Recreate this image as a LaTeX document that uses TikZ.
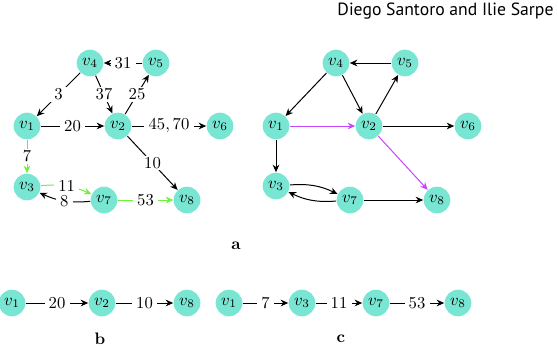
\documentclass[tikz,border=0pt]{standalone}
\usepackage{amsmath}
\usepackage{fontspec}
\usepackage{tikz}
\usetikzlibrary{arrows.meta}
\newfontfamily\hdrfont{PT Sans}
\definecolor{nodeteal}{RGB}{120,230,210}
\definecolor{pathgreen}{RGB}{110,240,60}
\definecolor{pathpink}{RGB}{200,70,250}

\begin{document}
\begin{tikzpicture}[>={Stealth[length=4.5pt, width=4pt]}, x=0.6pt, y=-0.6pt,
    vtx/.style={circle, fill=nodeteal, inner sep=0pt, minimum size=16pt},
    wlbl/.style={fill=white, inner xsep=2.5pt, inner ysep=1pt},
    grn/.style={draw=pathgreen, semithick},
    pnk/.style={draw=pathpink, semithick},
    every path/.append style={semithick}]
    \useasboundingbox (0,0) rectangle (558,346);

    % Tiêu đề chạy
    \node[anchor=base east, inner sep=0pt] (hdr) at (554,15) {\hdrfont\fontsize{10.6}{12}\selectfont Diego Santoro and Ilie Sarpe};

    % Đồ thị trái (có trọng số)
    \node[vtx] (L1) at (27,126) {$v_1$};
    \node[vtx] (L2) at (118,126) {$v_2$};
    \node[vtx] (L3) at (27,187) {$v_3$};
    \node[vtx] (L4) at (90,63) {$v_4$};
    \node[vtx] (L5) at (156,63) {$v_5$};
    \node[vtx] (L6) at (220,126) {$v_6$};
    \node[vtx] (L7) at (104,200) {$v_7$};
    \node[vtx] (L8) at (187,200) {$v_8$};

    \draw[->] (L5) -- node[wlbl] {$31$} (L4);
    \draw[->] (L4) -- node[wlbl] {$3$} (L1);
    \draw[->] (L4) -- node[wlbl] {$37$} (L2);
    \draw[->] (L2) -- node[wlbl] {$25$} (L5);
    \draw[->] (L1) -- node[wlbl] {$20$} (L2);
    \draw[->] (L2) -- node[wlbl] {$45,70$} (L6);
    \draw[->] (L2) -- node[wlbl] {$10$} (L8);
    \draw[->] (L7) to[bend left=15] node[wlbl] {$8$} (L3);
    % Đường đi màu xanh lá
    \draw[->, grn] (L1) -- node[wlbl] {$7$} (L3);
    \draw[->, grn] (L3) to[bend left=15] node[wlbl] {$11$} (L7);
    \draw[->, grn] (L7) -- node[wlbl] {$53$} (L8);

    % Đồ thị phải (không trọng số)
    \node[vtx] (R1) at (276,126) {$v_1$};
    \node[vtx] (R2) at (369,126) {$v_2$};
    \node[vtx] (R3) at (276,186) {$v_3$};
    \node[vtx] (R4) at (336,63) {$v_4$};
    \node[vtx] (R5) at (405,63) {$v_5$};
    \node[vtx] (R6) at (468,126) {$v_6$};
    \node[vtx] (R7) at (350,200) {$v_7$};
    \node[vtx] (R8) at (437,200) {$v_8$};

    \draw[->] (R5) -- (R4);
    \draw[->] (R4) -- (R1);
    \draw[->] (R4) -- (R2);
    \draw[->] (R2) -- (R5);
    \draw[->] (R2) -- (R6);
    \draw[->] (R1) -- (R3);
    \draw[->] (R3) to[bend left=15] (R7);
    \draw[->] (R7) to[bend left=15] (R3);
    \draw[->] (R7) -- (R8);
    % Đường đi màu tím
    \draw[->, pnk] (R1) -- (R2);
    \draw[->, pnk] (R2) -- (R8);

    \node (capa) at (236,246) {\textbf{a}};

    % Hàng dưới: đường đi b
    \node[vtx] (b1) at (12,303) {$v_1$};
    \node[vtx] (b2) at (102,303) {$v_2$};
    \node[vtx] (b8) at (187,303) {$v_8$};
    \draw[->] (b1) -- node[wlbl] {$20$} (b2);
    \draw[->] (b2) -- node[wlbl] {$10$} (b8);
    \node (capb) at (100,339) {\textbf{b}};

    % Hàng dưới: đường đi c
    \node[vtx] (c1) at (229,303) {$v_1$};
    \node[vtx] (c3) at (302,303) {$v_3$};
    \node[vtx] (c7) at (376,303) {$v_7$};
    \node[vtx] (c8) at (458,303) {$v_8$};
    \draw[->] (c1) -- node[wlbl] {$7$} (c3);
    \draw[->] (c3) -- node[wlbl] {$11$} (c7);
    \draw[->] (c7) -- node[wlbl] {$53$} (c8);
    \node (capc) at (341,339) {\textbf{c}};
\end{tikzpicture}
\end{document}
